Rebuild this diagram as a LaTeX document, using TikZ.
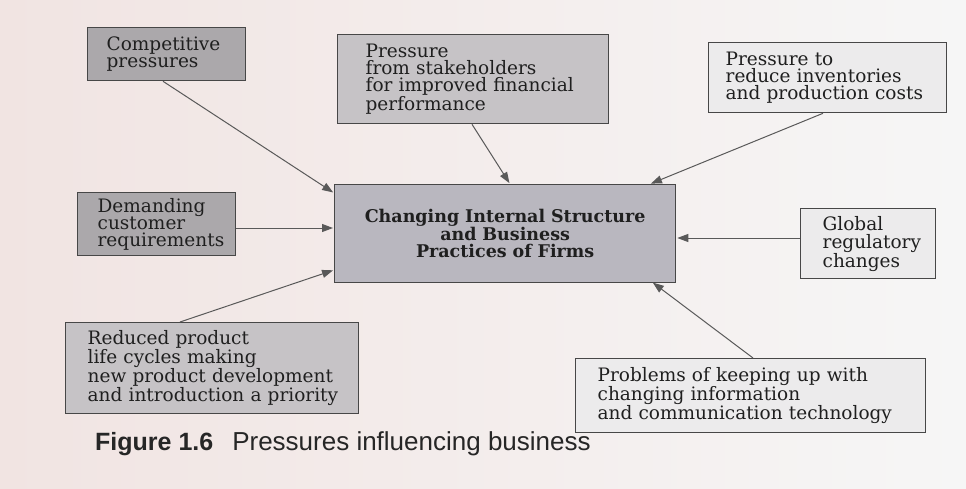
\documentclass[tikz,border=0pt]{standalone}
\usepackage{fontspec}
\setmainfont{DejaVu Serif}
\newfontfamily\capfont{Liberation Sans}
\usetikzlibrary{arrows.meta}
\definecolor{bgl}{HTML}{F1E4E2}
\definecolor{bgr}{HTML}{F6F6F6}
\definecolor{edge}{HTML}{474747}
\definecolor{darkfill}{HTML}{ABA8AB}
\definecolor{midfill}{HTML}{C6C3C6}
\definecolor{centerfill}{HTML}{B9B7BF}
\definecolor{lightfill}{HTML}{ECEBEC}
\tikzset{
  box/.style={draw=edge, line width=1.3pt, rectangle, anchor=north west,
    inner xsep=19pt, inner ysep=0pt, align=left,
    font=\fontsize{18.5}{16.8}\selectfont, text=black!88},
  hub/.style={draw=edge, line width=1.3pt, rectangle, anchor=north west,
    inner sep=0pt, align=center, fill=centerfill,
    font=\fontsize{17.5}{17.5}\selectfont\bfseries, text=black!88},
  push/.style={draw=edge!90, line width=1pt,
    -{Triangle[length=11pt,width=8pt]}, shorten >=1pt}
}
\begin{document}
\begin{tikzpicture}[x=1pt,y=-1pt]
\useasboundingbox (0,0) rectangle (966,489);
\shade[left color=bgl, right color=bgr] (0,0) rectangle (966,489);

% boxes (north-west corner, width = text width + 2 inner xsep, height)
\node[box, fill=darkfill, text width=120pt, minimum height=53pt] (comp) at (87,27)
  {Competitive\\pressures};
\node[box, fill=midfill, inner xsep=28pt, text width=215pt, minimum height=89pt] (stake) at (337,34)
  {Pressure\\from stakeholders\\for improved financial\\performance\vphantom{y}\\[4pt]};
\node[box, fill=lightfill, inner xsep=17pt, text width=204pt, minimum height=70pt] (inv) at (708,42)
  {Pressure to\\reduce inventories\\and production costs};
\node[box, fill=darkfill, inner xsep=20pt, text width=118pt, minimum height=63pt] (cust) at (77,192)
  {Demanding\\customer\\requirements};
\node[hub, minimum width=341pt, minimum height=98pt, text width=330pt] (hub) at (334,184)
  {Changing Internal Structure\\and Business\\Practices of Firms};
\node[box, fill=lightfill, inner xsep=22pt, text width=91pt, minimum height=70pt,
  font=\fontsize{18.5}{18.5}\selectfont] (glob) at (800,208)
  {Global\\regulatory\\changes};
\node[box, fill=midfill, inner xsep=22pt, text width=249pt, minimum height=91pt] (life) at (65,322)
  {Reduced product\\life cycles making\\new product development\\\mbox{and introduction a priority}};
\node[box, fill=lightfill, inner xsep=22pt, text width=306pt, minimum height=74pt] (tech) at (575,358)
  {Problems of keeping up with\\changing information\\\mbox{and communication technology}};

% caption
\node[anchor=base west, inner sep=0pt, font=\capfont\fontsize{26}{26}\selectfont, text=black!85]
  (cap) at (95,450) {{\fontsize{25}{25}\selectfont\textbf{Figure 1.6}}\hspace{19pt}Pressures influencing business};

% connectors
\coordinate (c1) at (163,80);
\draw[push] (comp.south -| c1) -- (hub.north west |- 0,193);
\coordinate (c2) at (472,123);
\draw[push] (stake.south -| c2) -- (510,184) coordinate (h2);
\draw[push] (inv.south -| 823,0) -- (650,184);
\draw[push] (cust.east |- 0,228) -- (hub.west |- 0,228);
\draw[push] (glob.west |- 0,238) -- (hub.east |- 0,238);
\draw[push] (life.north -| 180,0) -- (hub.west |- 0,270);
\draw[push] (tech.north -| 753,0) -- (652,282);
\end{tikzpicture}
\end{document}
